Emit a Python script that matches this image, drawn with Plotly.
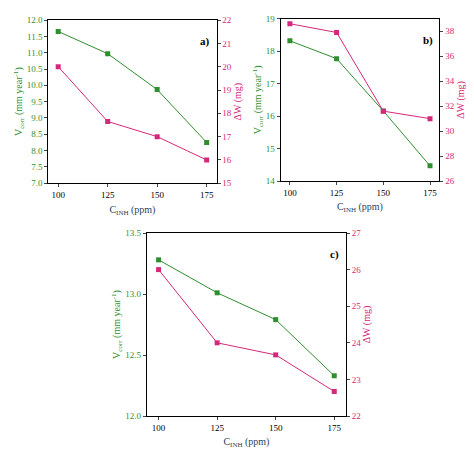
import plotly.graph_objects as go

conc = [100, 125, 150, 175]
vcorr_a = [11.65, 10.97, 9.87, 8.25]
dw_a = [20.0, 17.65, 17.0, 16.0]
vcorr_b = [18.32, 17.77, 16.16, 14.47]
dw_b = [38.6, 37.9, 31.6, 31.0]
vcorr_c = [13.28, 13.01, 12.79, 12.33]
dw_c = [26.0, 24.0, 23.67, 22.67]

G = "#2f8f2f"
P = "#d6287a"
F = "Liberation Serif"

fig = go.Figure()
panels = [
    ("a)", vcorr_a, dw_a, [0.085, 0.44], [0.613, 0.984], [7, 12], 0.5, [15, 22], 1),
    ("b)", vcorr_b, dw_b, [0.575, 0.91], [0.618, 0.987], [14, 19], 1, [26, 39], 2),
    ("c)", vcorr_c, dw_c, [0.293, 0.713], [0.084, 0.5], [12, 13.5], 0.5, [22, 27], 1),
]
for i, (lab, v, w, xd, yd, yr, ydt, wr, wdt) in enumerate(panels):
    n = i + 1
    xa = "x" if n == 1 else f"x{n}"
    ya = "y" if n == 1 else f"y{2*n-1}"
    yb = f"y{2*n}"
    fig.add_trace(go.Scatter(x=conc, y=v, xaxis=xa, yaxis=ya, mode="lines+markers",
                             line=dict(color=G, width=1), marker=dict(symbol="square", size=5, color=G)))
    fig.add_trace(go.Scatter(x=conc, y=w, xaxis=xa, yaxis=yb, mode="lines+markers",
                             line=dict(color=P, width=1), marker=dict(symbol="square", size=5, color=P)))
    xk = "xaxis" if n == 1 else f"xaxis{n}"
    yk1 = "yaxis" if n == 1 else f"yaxis{2*n-1}"
    yk2 = f"yaxis{2*n}"
    fig.layout[xk] = dict(domain=xd, anchor=ya, range=[95, 180], tickvals=conc,
                          showline=True, mirror=True, linecolor="black", ticks="outside",
                          ticklen=3, showgrid=False, zeroline=False,
                          tickfont=dict(family=F, size=9, color="black"),
                          title=dict(text="C<sub>INH</sub> (ppm)", font=dict(family=F, size=10), standoff=6))
    fig.layout[yk1] = dict(domain=yd, anchor=xa, range=yr, dtick=ydt, showline=True,
                           linecolor="black", ticks="outside", ticklen=3, showgrid=False, zeroline=False,
                           tickformat=".1f" if ydt < 1 else "d",
                           tickfont=dict(family=F, size=9, color=G),
                           title=dict(text="V<sub>corr</sub> (mm year<sup>-1</sup>)", font=dict(family=F, size=10, color=G), standoff=2))
    fig.layout[yk2] = dict(domain=yd, anchor=xa, overlaying=ya, side="right", range=wr, dtick=wdt,
                           showline=True, linecolor="black", ticks="outside", ticklen=3,
                           showgrid=False, zeroline=False,
                           tickfont=dict(family=F, size=9, color=P),
                           title=dict(text="ΔW (mg)", font=dict(family=F, size=10, color=P), standoff=2))
    fig.add_annotation(text=f"<b>{lab}</b>", x=xd[1] - 0.01, y=yd[1] - 0.03, xref="paper", yref="paper",
                       xanchor="right", yanchor="top", showarrow=False, font=dict(family=F, size=11, color="black"))

fig.update_layout(width=474, height=450, margin=dict(l=0, r=0, t=0, b=0), showlegend=False,
                  plot_bgcolor="white", paper_bgcolor="white")
fig.write_html("out.html")
